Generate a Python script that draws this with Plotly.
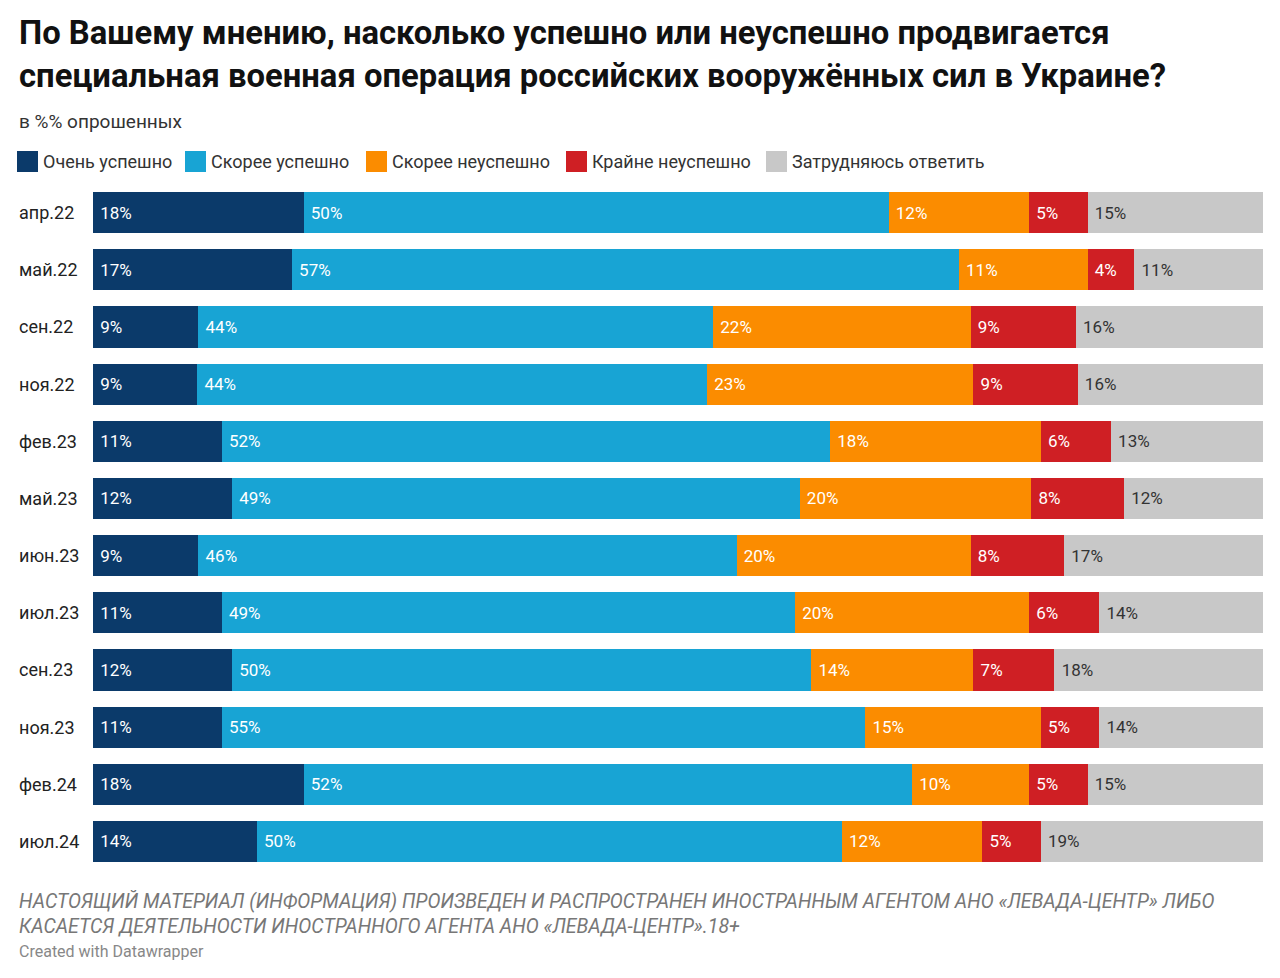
import plotly.graph_objects as go

categories = ["апр.22","май.22","сен.22","ноя.22","фев.23","май.23","июн.23","июл.23","сен.23","ноя.23","фев.24","июл.24"]
series_names = ["Очень успешно","Скорее успешно","Скорее неуспешно","Крайне неуспешно","Затрудняюсь ответить"]
very_success = [18,17,9,9,11,12,9,11,12,11,18,14]
rather_success = [50,57,44,44,52,49,46,49,50,55,52,50]
rather_fail = [12,11,22,23,18,20,20,20,14,15,10,12]
very_fail = [5,4,9,9,6,8,8,6,7,5,5,5]
hard_say = [15,11,16,16,13,12,17,14,18,14,15,19]
colors = ["#0b3a6a","#18a4d4","#fb8c00","#cf1f24","#c8c8c8"]
text_colors = ["white","white","white","white","#333333"]
legend_px = [17, 185, 366, 566, 766]

OFF = 8  # page body margin
L, R, T, B, W, H = 93 - OFF, 17 + OFF, 184 - OFF, 108 + OFF, 1280, 978
PW, PH = W - L - R, H - T - B
def px(x): return (x - OFF - L) / PW
def py(y): return (H - B - (y - OFF)) / PH

values = [very_success, rather_success, rather_fail, very_fail, hard_say]
fig = go.Figure()
for name, vals, c, tc in zip(series_names, values, colors, text_colors):
    fig.add_trace(go.Bar(
        y=categories, x=vals, name=name, orientation="h", marker=dict(color=c, line=dict(width=0)),
        text=[f" {v}%" for v in vals], textposition="inside", insidetextanchor="start",
        textfont=dict(color=tc, size=17, family="Roboto"), hoverinfo="skip"))

fig.update_layout(
    barmode="stack", barnorm="percent", bargap=0.28,
    width=W, height=H, margin=dict(l=L, r=R, t=T, b=B),
    paper_bgcolor="white", plot_bgcolor="white", font=dict(family="Roboto", color="#333"),
    xaxis=dict(visible=False, range=[0,100], fixedrange=True),
    yaxis=dict(autorange="reversed", showticklabels=False, showgrid=False),
    showlegend=False,
    uniformtext=dict(mode="show", minsize=10),
)
for name, c, lx in zip(series_names, colors, legend_px):
    fig.add_shape(type="rect", xref="paper", yref="paper", x0=px(lx), x1=px(lx+21), y0=py(172), y1=py(151),
                  fillcolor=c, line=dict(width=0))
    fig.add_annotation(x=px(lx+24), y=py(161), xref="paper", yref="paper", xanchor="left", yanchor="middle",
                       showarrow=False, text=name, font=dict(size=18, color="#333"))
X0 = px(17)
for cat in categories:
    fig.add_annotation(x=X0, xref="paper", y=cat, yref="y", text=cat, showarrow=False,
                       xanchor="left", font=dict(size=18, color="#222"))
fig.add_annotation(x=X0, y=py(54), xref="paper", yref="paper", xanchor="left", yanchor="middle", showarrow=False, align="left",
                   text="<b>По Вашему мнению, насколько успешно или неуспешно продвигается<br>специальная военная операция российских вооружённых сил в Украине?</b>",
                   font=dict(size=32.8, color="#111"))
fig.add_annotation(x=X0, y=py(121), xref="paper", yref="paper", xanchor="left", yanchor="middle", showarrow=False,
                   text="в %% опрошенных", font=dict(size=19, color="#333"))
fig.add_annotation(x=X0, y=py(914), xref="paper", yref="paper", xanchor="left", yanchor="middle", showarrow=False, align="left",
                   text="<i>НАСТОЯЩИЙ МАТЕРИАЛ (ИНФОРМАЦИЯ) ПРОИЗВЕДЕН И РАСПРОСТРАНЕН ИНОСТРАННЫМ АГЕНТОМ АНО «ЛЕВАДА-ЦЕНТР» ЛИБО<br>КАСАЕТСЯ ДЕЯТЕЛЬНОСТИ ИНОСТРАННОГО АГЕНТА АНО «ЛЕВАДА-ЦЕНТР».18+</i>",
                   font=dict(size=19.5, color="#777"))
fig.add_annotation(x=X0, y=py(951), xref="paper", yref="paper", xanchor="left", yanchor="middle", showarrow=False,
                   text="Created with Datawrapper", font=dict(size=16, color="#888"))
fig.write_html("out.html")
